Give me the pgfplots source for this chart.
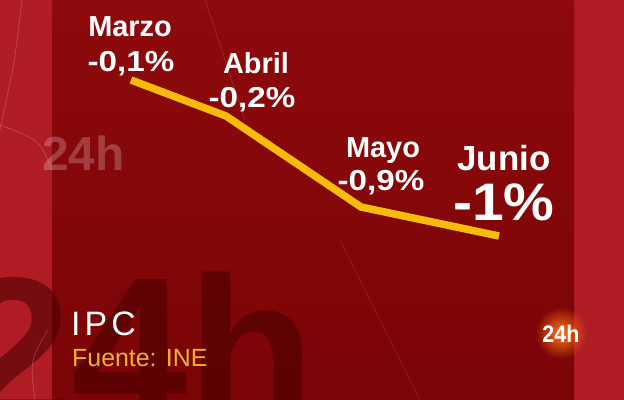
\documentclass[border=0pt]{standalone}
\usepackage{pgfplots}
\pgfplotsset{compat=1.18}
\usepackage{graphicx}
\usepackage{fontspec}
\setmainfont{Liberation Sans}
\usetikzlibrary{fadings}
\definecolor{outerred}{RGB}{176,28,36}
\definecolor{innertop}{RGB}{142,10,12}
\definecolor{innerred}{RGB}{122,4,6}
\definecolor{linegold}{RGB}{246,188,12}
\definecolor{srcgold}{RGB}{232,178,52}
\definecolor{markdark}{RGB}{70,0,0}
\definecolor{glow}{RGB}{255,120,20}
\tikzfading[name=glowfade, inner color=transparent!0, outer color=transparent!100]

\newcommand{\nm}{\fontsize{29}{30}\selectfont\bfseries}
\newcommand{\pc}[1]{\scalebox{1.15}[1]{#1}}

\begin{document}
\begin{tikzpicture}
\clip (0,0) rectangle (624bp,400bp);
\begin{axis}[
  width=624bp, height=400bp, scale only axis,
  xmin=0, xmax=624, ymin=0, ymax=400, y dir=reverse,
  hide axis, clip=true,
]
% background panels
\fill[outerred] (axis cs:0,0) rectangle (axis cs:624,400);
\shade[top color=innertop, bottom color=innerred] (axis cs:52,0) rectangle (axis cs:574,400);
% watermarks and faint lines
\node[anchor=base west, inner sep=0, text=markdark, text opacity=0.55,
  font=\fontsize{210}{210}\selectfont\bfseries] at (axis cs:-45,423) {24h};
\node[anchor=base west, inner sep=0, text=white, text opacity=0.22,
  font=\fontsize{48}{48}\selectfont\bfseries] at (axis cs:42,170) {24h};
\draw[white, opacity=0.18, line width=0.8bp] (axis cs:22,0) .. controls (axis cs:15,60) .. (axis cs:0,130);
\draw[white, opacity=0.18, line width=0.8bp] (axis cs:0,125) .. controls (axis cs:40,140) .. (axis cs:52,170);
\draw[white, opacity=0.12, line width=0.8bp] (axis cs:205,0) -- (axis cs:245,120);
\draw[white, opacity=0.10, line width=0.8bp] (axis cs:340,240) -- (axis cs:420,400);
\draw[white, opacity=0.18, line width=0.8bp] (axis cs:48,330) .. controls (axis cs:30,360) .. (axis cs:35,400);
% series
\addplot[linegold, line width=7.5bp, line join=round, line cap=butt] coordinates {
  (131,80) (226,116) (361,207) (499,236)
};
% labels
\node[anchor=base, text=white, font=\nm] at (axis cs:130,36) {Marzo};
\node[anchor=base, text=white, font=\nm] at (axis cs:131,71) {\pc{-0,1\%}};
\node[anchor=base, text=white, font=\nm] at (axis cs:256,73) {Abril};
\node[anchor=base, text=white, font=\nm] at (axis cs:252,107) {\pc{-0,2\%}};
\node[anchor=base, text=white, font=\nm] at (axis cs:383,157) {Mayo};
\node[anchor=base, text=white, font=\nm] at (axis cs:381,190) {\pc{-0,9\%}};
\node[anchor=base, text=white, font=\fontsize{35}{36}\selectfont\bfseries] at (axis cs:504,170) {Junio};
\node[anchor=base, text=white, font=\fontsize{53}{54}\selectfont\bfseries] at (axis cs:504,220) {\scalebox{1.08}[1]{-1\%}};
% title and source
\node[anchor=base west, inner sep=0, text=white, font=\fontsize{34}{34}\selectfont\addfontfeatures{LetterSpace=12}] at (axis cs:71,335) {IPC};
\node[anchor=base west, inner sep=0, text=srcgold, font=\fontsize{25}{25}\selectfont] at (axis cs:72,366) {Fuente: INE};
% logo
\fill[glow, path fading=glowfade] (axis cs:561,333) circle (26bp);
\node[anchor=base, text=white, font=\fontsize{24}{24}\selectfont\bfseries] at (axis cs:561,342) {\scalebox{0.9}[1]{24h}};
\end{axis}
\end{tikzpicture}
\end{document}
